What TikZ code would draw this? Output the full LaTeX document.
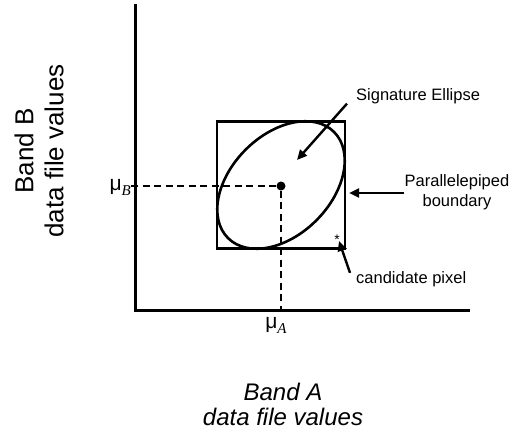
\documentclass[tikz,border=0pt]{standalone}
\usepackage{fontspec}
\setmainfont{Liberation Serif}
\setsansfont{Liberation Sans}
\usetikzlibrary{shapes.geometric,arrows.meta}
\tikzset{
  lbl/.style={font=\sffamily\fontsize{16.5}{20}\selectfont, inner sep=1pt},
  axlbl/.style={font=\sffamily\fontsize{26}{30}\selectfont, align=center, inner sep=0pt},
  arr/.style={line width=2.4pt, -{Triangle[length=10pt,width=9pt]}},
  axis/.style={line width=3pt},
  guide/.style={line width=1.1pt, dash pattern=on 7pt off 4.5pt},
  mulbl/.style={font=\sffamily\fontsize{21}{22}\selectfont, inner sep=0pt},
}
\newcommand{\subsc}[1]{\raisebox{-5pt}{\rmfamily\itshape\fontsize{15}{15}\selectfont #1}}
\begin{document}
\begin{tikzpicture}[x=1pt,y=-1pt]
\useasboundingbox (0,0) rectangle (516,431);
% axes
\coordinate (ytop) at (135,4);
\coordinate (O) at (135,310);
\coordinate (xend) at (470,310);
\draw[axis] (ytop) -- (O) -- (xend);
% box and ellipse
\node[draw, line width=2.3pt, minimum width=128pt, minimum height=127pt, inner sep=0] (box) at (281,185) {};
\node[draw, ellipse, line width=2.6pt, rotate=45, minimum width=150pt, minimum height=100pt, inner sep=0] (ell) at (281,185) {};
\node[circle, fill, inner sep=0, minimum size=9pt] (mu) at (281,186) {};
% guides
\coordinate (gl) at (131,186);
\coordinate (gb) at (281,309);
\draw[guide] (gl) -- (mu);
\draw[guide] (mu) -- (gb);
% mu labels
\node[mulbl, anchor=base east] (muB) at (131,190) {μ\subsc{B}};
\node[mulbl, anchor=base] (muA) at (276,328) {μ\subsc{A}};
% star
\node[font=\sffamily\fontsize{14}{14}\selectfont, inner sep=0] (star) at (337,240) {*};
% labels
\node[lbl, anchor=base west] (sig) at (355,100) {Signature Ellipse};
\node[lbl, align=center] (par) at (457,192) {Parallelepiped\\boundary};
\node[lbl, anchor=base west] (cand) at (355,283) {candidate pixel};
\coordinate (sigtip) at (297,160);
\coordinate (candtip) at (339,241);
\draw[arr] ([xshift=-8pt,yshift=1pt]sig.south west) -- (sigtip);
\draw[arr] ([yshift=-1pt]par.west) -- ([xshift=3pt,yshift=-1pt]par.west -| box.east);
\draw[arr] ([xshift=-5pt,yshift=-3pt]cand.north west) -- (candtip);
% axis labels
\node[axlbl, rotate=90] (bandB) at (39,151) {Band B\\data file values};
\node[axlbl, font=\sffamily\itshape\fontsize{24}{25}\selectfont] (bandA) at (283,404) {Band A\\data file values};
\end{tikzpicture}
\end{document}
